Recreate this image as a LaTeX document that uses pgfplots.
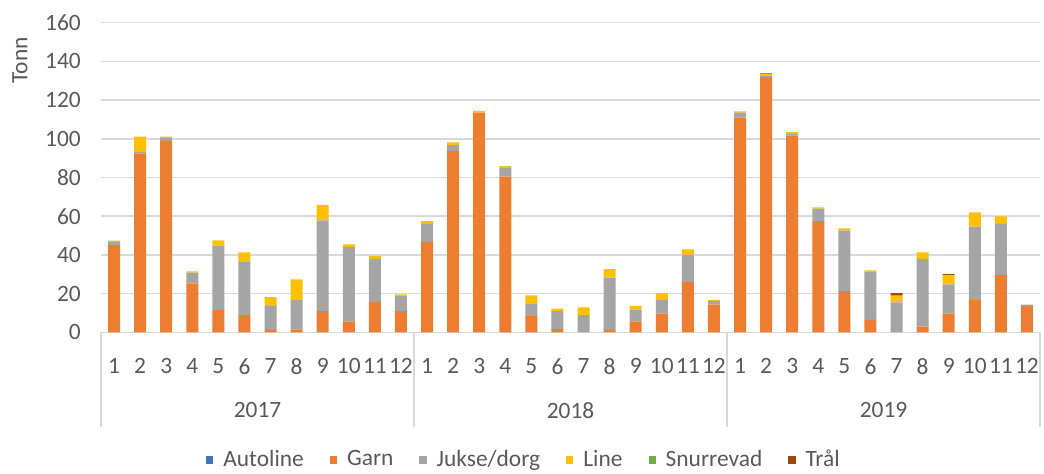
\documentclass[border=0pt]{standalone}
\usepackage{pgfplots}
\pgfplotsset{compat=1.18}
\usepackage{pgfplotstable}
\usepackage{fontspec}
\setmainfont{Carlito}
\definecolor{cAuto}{HTML}{4472C4}
\definecolor{cGarn}{HTML}{ED7D31}
\definecolor{cJukse}{HTML}{A5A5A5}
\definecolor{cLine}{HTML}{FFC000}
\definecolor{cSnurr}{HTML}{70AD47}
\definecolor{cTral}{HTML}{9E480E}
\definecolor{txt}{HTML}{595959}
\definecolor{grd}{HTML}{D9D9D9}
\pgfplotstableread{
x  auto garn  jukse line snurr tral
0  0    45.1  1.7   0.6  0     0
1  0    92.5  0.8   7.8  0     0
2  0    98.9  1.9   0.3  0     0
3  0    25.3  5.5   0.7  0     0
4  0    11.5  33.3  2.7  0     0
5  0    8.9   27.8  4.6  0     0
6  0    1.2   12.4  4.6  0     0
7  0    1.5   15.2  10.7 0     0
8  0    11.0  46.9  7.9  0     0
9  0    5.7   38.4  1.4  0     0
10 0    15.7  22.3  1.4  0     0
11 0    11.0  7.9   0.7  0     0
12 0    46.8  9.2   1.4  0     0
13 0    93.7  3.1   1.4  0     0
14 0    113.5 0     0.9  0     0
15 0    80.4  4.9   0.6  0     0
16 0    8.4   6.6   4.1  0     0
17 0    1.7   9.3   1.2  0     0
18 0    0     8.9   4.0  0     0
19 0    1.2   27.0  4.5  0     0
20 0    5.7   6.0   1.9  0     0
21 0    9.6   7.2   3.4  0     0
22 0    26.1  14.0  2.8  0     0
23 0    14.3  1.9   0.6  0     0
24 0    110.9 2.6   0.7  0     0
25 0    131.9 0.9   0.7  0.7   0
26 0    101.6 1.2   0.7  0     0
27 0    57.4  6.5   0.7  0     0
28 0    21.3  31.2  1.2  0     0
29 0    6.4   24.9  0.7  0     0
30 0    0     15.5  3.4  0     1.3
31 0    2.9   35.1  3.3  0     0
32 0    9.6   15.2  4.7  0     0.6
33 0    16.8  37.8  7.4  0     0
34 0    29.5  26.5  3.9  0     0
35 0    13.6  0.7   0    0     0
}\datatable
\begin{document}
\begin{tikzpicture}
\fontsize{11.7}{13}\selectfont
\path[use as bounding box] (-50.5pt,-70.35pt) rectangle (471.5pt,166.15pt);
\begin{axis}[
  at={(0,0)}, anchor=south west,
  scale only axis, width=469.5pt, height=154.8pt,
  xmin=-0.5, xmax=35.5, ymin=0, ymax=160,
  ybar stacked, bar width=6pt,
  ytick={0,20,...,160},
  xtick={0,...,35},
  xticklabels={1,2,3,4,5,6,7,8,9,10,11,12,1,2,3,4,5,6,7,8,9,10,11,12,1,2,3,4,5,6,7,8,9,10,11,12},
  /pgf/number format/assume math mode=true,
  major tick length=0pt,
  ymajorgrids, grid style={draw=grd, line width=0.75pt},
  axis x line*=bottom, axis y line*=left,
  y axis line style={draw=none},
  x axis line style={draw=grd, line width=0.75pt},
  tick label style={text=txt, font=\fontsize{11.7}{13}\selectfont},
  yticklabel style={xshift=-6pt},
  xticklabel style={yshift=-13pt, inner sep=0pt},
  clip=false,
  legend style={at={(0.4515,-0.4125)}, anchor=center, draw=none, fill=none,
    legend columns=6, font=\fontsize{11.7}{13}\selectfont, text=txt,
    /tikz/every odd column/.append style={column sep=3pt},
    /tikz/every even column/.append style={column sep=11pt},
    legend cell align=left},
  legend image code/.code={\fill[#1] (0pt,-1.8pt) rectangle (3.6pt,1.8pt);},
  every axis plot/.append style={draw=none},
]
\addplot[fill=cAuto] table[x=x,y=auto]{\datatable};
\addplot[fill=cGarn] table[x=x,y=garn]{\datatable};
\addplot[fill=cJukse] table[x=x,y=jukse]{\datatable};
\addplot[fill=cLine] table[x=x,y=line]{\datatable};
\addplot[fill=cSnurr] table[x=x,y=snurr]{\datatable};
\addplot[fill=cTral] table[x=x,y=tral]{\datatable};
\legend{Autoline,Garn,Jukse/dorg,Line,Snurrevad,Trål}
\draw[grd, line width=0.75pt] (axis cs:-0.5,0) -- ([yshift=-47.5pt]axis cs:-0.5,0);
\draw[grd, line width=0.75pt] (axis cs:11.5,0) -- ([yshift=-47.5pt]axis cs:11.5,0);
\draw[grd, line width=0.75pt] (axis cs:23.5,0) -- ([yshift=-47.5pt]axis cs:23.5,0);
\draw[grd, line width=0.75pt] (axis cs:35.5,0) -- ([yshift=-47.5pt]axis cs:35.5,0);
\node[text=txt] at ([yshift=-39pt]axis cs:5.5,0) {2017};
\node[text=txt] at ([yshift=-39pt]axis cs:17.5,0) {2018};
\node[text=txt] at ([yshift=-39pt]axis cs:29.5,0) {2019};
\node[text=txt, rotate=90] at ([xshift=-40.5pt]rel axis cs:0,0.878) {Tonn};
\end{axis}
\end{tikzpicture}
\end{document}
